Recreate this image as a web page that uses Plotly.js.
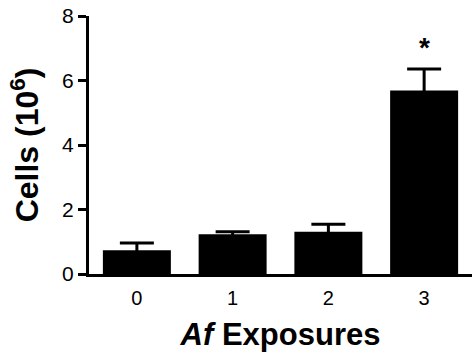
<!DOCTYPE html>
<html>
<head>
<meta charset="utf-8">
<script src="https://cdn.plot.ly/plotly-3.0.1.min.js"></script>
<style>html,body{margin:0;padding:0;background:#fff;}#chart{width:472px;height:353px;}</style>
</head>
<body>
<div id="chart"></div>
<script>
const categories = [0, 1, 2, 3];
const tickLabels = ["0", "1", "2", "3"];
const cells = [0.74, 1.23, 1.31, 5.69];
const sem = [0.22, 0.08, 0.23, 0.67];
const significance = ["", "", "", "*"];

const font = "Liberation Sans, Arial, Helvetica, sans-serif";

const trace = {
  type: "bar",
  x: categories,
  y: cells,
  width: 0.71,
  marker: {color: "#000", line: {width: 0}},
  error_y: {
    type: "data",
    symmetric: true,
    array: sem,
    color: "#000",
    thickness: 3,
    width: 17
  },
  hoverinfo: "none"
};

const annotations = categories.map((c, i) => ({
  x: c,
  y: cells[i] + sem[i],
  xref: "x",
  yref: "y",
  text: significance[i] ? "<b>" + significance[i] + "</b>" : "",
  showarrow: false,
  yanchor: "bottom",
  yshift: 4,
  font: {family: font, size: 28, color: "#000"}
})).filter(a => a.text);

const layout = {
  width: 472,
  height: 353,
  margin: {l: 89, r: 0, t: 16, b: 79, pad: 0},
  paper_bgcolor: "#fff",
  plot_bgcolor: "#fff",
  showlegend: false,
  xaxis: {
    range: [-0.5, 3.5],
    tickmode: "array",
    tickvals: categories,
    ticktext: tickLabels,
    ticks: "",
    ticklabelstandoff: 4,
    showline: true,
    linecolor: "#000",
    linewidth: 3,
    showgrid: false,
    zeroline: false,
    tickfont: {family: font, size: 20, color: "#000"},
    title: {text: "<b><i>Af</i> Exposures</b>", font: {family: font, size: 31, color: "#000"}, standoff: 16}
  },
  yaxis: {
    range: [0, 8],
    tickvals: [0, 2, 4, 6, 8],
    ticks: "outside",
    ticklen: 8,
    tickwidth: 3,
    tickcolor: "#000",
    showline: true,
    linecolor: "#000",
    linewidth: 3,
    showgrid: false,
    zeroline: false,
    tickfont: {family: font, size: 21, color: "#000"},
    title: {text: "<b>Cells (10<sup>6</sup>)</b>", font: {family: font, size: 32, color: "#000"}, standoff: 14}
  },
  annotations: annotations
};

Plotly.newPlot("chart", [trace], layout, {staticPlot: true, displayModeBar: false});
</script>
</body>
</html>
